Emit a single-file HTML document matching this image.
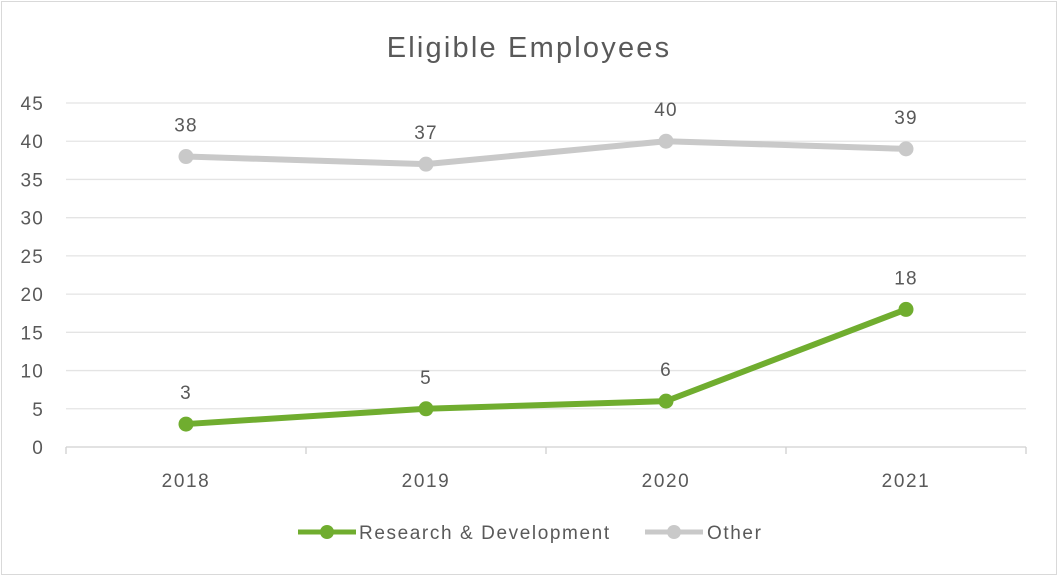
<!DOCTYPE html>
<html><head><meta charset="utf-8"><style>
body{margin:0;background:#fff;}
svg{display:block;font-family:"Liberation Sans",Calibri,sans-serif;}
</style></head><body>
<svg id="chart" width="1058" height="576">
<rect x="1.5" y="1.5" width="1055" height="573" fill="#fff" stroke="#d9d9d9" stroke-width="1"/>
<text x="529" y="57" text-anchor="middle" font-size="29" letter-spacing="2.2" fill="#595959">Eligible Employees</text>
<g id="grid"></g><g id="axes"></g><g id="series"></g>
<g>
<g>
<line x1="298" y1="532" x2="356" y2="532" stroke="#70ad2f" stroke-width="5"/>
<circle cx="327" cy="532" r="7" fill="#70ad2f"/>
<text x="359" y="539" font-size="19" letter-spacing="1.6" fill="#595959">Research &amp; Development</text></g>
<g>
<line x1="645" y1="532" x2="703" y2="532" stroke="#c9c9c9" stroke-width="5"/>
<circle cx="674" cy="532" r="7" fill="#c9c9c9"/>
<text x="707" y="539" font-size="19" letter-spacing="1.6" fill="#595959">Other</text></g>
</g>
</svg>
<script>
const categories=["2018","2019","2020","2021"];
const rdValues=[3,5,6,18];
const otherValues=[38,37,40,39];
const yTicks=[0,5,10,15,20,25,30,35,40,45];
const NS="http://www.w3.org/2000/svg";
const x0=66,x1=1026,y0=447,y1=103,ymax=45;
const xs=i=>x0+(x1-x0)/categories.length*(i+0.5);
const ys=v=>y0-(y0-y1)*v/ymax;
function mk(t,a,p){const e=document.createElementNS(NS,t);for(const k in a)e.setAttribute(k,a[k]);p.appendChild(e);return e;}
const grid=document.getElementById('grid'),axes=document.getElementById('axes'),ser=document.getElementById('series');
yTicks.forEach(v=>{
 const l=mk('line',{x1:x0,x2:x1,y1:ys(v),y2:ys(v),stroke:v===0?'#d0d0d0':'#e4e4e4','stroke-width':1.3},grid);
 
 
 const t=mk('text',{x:44,y:ys(v)+7,'text-anchor':'end','font-size':19,'letter-spacing':1.2,fill:'#595959'},axes);t.textContent=v;
 
 
});
for(let i=0;i<=categories.length;i++){
 const x=x0+(x1-x0)/categories.length*i;
 const l=mk('line',{x1:x,x2:x,y1:y0,y2:y0+7,stroke:'#d0d0d0','stroke-width':1.3},axes);
 
 
}
categories.forEach((c,i)=>{
 const t=mk('text',{x:xs(i),y:487,'text-anchor':'middle','font-size':19,'letter-spacing':1.6,fill:'#595959'},axes);t.textContent=c;
 
 
});
function draw(vals,color,name){
 const g=mk('g',{},ser);
 
 
 const pl=mk('polyline',{points:vals.map((v,i)=>xs(i)+','+ys(v)).join(' '),fill:'none',stroke:color,'stroke-width':6,'stroke-linejoin':'round','stroke-linecap':'round'},g);
 
 
 vals.forEach((v,i)=>{
  const c=mk('circle',{cx:xs(i),cy:ys(v),r:7.5,fill:color},g);
  
  
  const t=mk('text',{x:xs(i),y:ys(v)-25,'text-anchor':'middle','font-size':19,'letter-spacing':1.2,fill:'#595959'},g);t.textContent=v;
  
  
 });
}
draw(otherValues,'#c9c9c9','other');
draw(rdValues,'#70ad2f','rd');
</script>
</body></html>
